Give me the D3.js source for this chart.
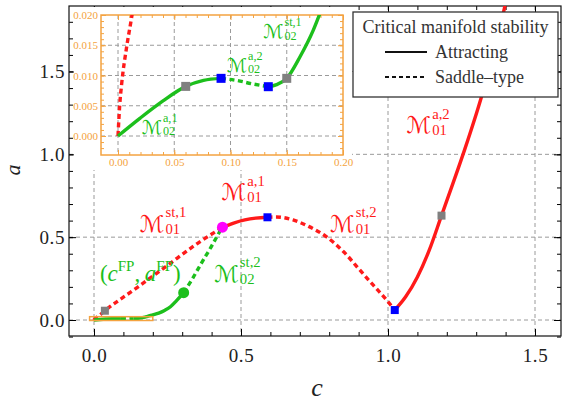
<!DOCTYPE html>
<html>
<head>
<meta charset="utf-8">
<script src="https://cdn.jsdelivr.net/npm/d3@7"></script>
<style>
  body { margin: 0; background: #fff; }
  svg { display: block; }
</style>
</head>
<body>
<svg id="chart" width="562" height="401"></svg>
<script>
// ---- data (c, a) ----
const greenSolidA = [[0,0],[0.02,0.003],[0.04,0.0058],[0.0602,0.0082],[0.076,0.0092],[0.0916,0.00953]]
const greenDashedA = [[0.0916,0.00953],[0.105,0.0092],[0.12,0.0086],[0.1336,0.00815]]
const greenSolidB = [[0.1336,0.00815],[0.141,0.0085],[0.15,0.00953],[0.1618,0.0131],[0.1736,0.0175],[0.18,0.0205],
  [0.2,0.031],[0.22,0.042],[0.24,0.058],[0.26,0.08],[0.28,0.115],[0.305,0.165]]
const greenDashedB = [[0.305,0.165],[0.335,0.25],[0.365,0.342],[0.398,0.44],[0.432,0.548]]

const redDashedA = [[0,0],[0.0015,0.005],[0.0033,0.0087],[0.0075,0.0145],[0.0122,0.0197],[0.037,0.056],
  [0.15,0.2],[0.25,0.33],[0.35,0.46],[0.437,0.559]]
const redSolidA = [[0.437,0.559],[0.475,0.585],[0.513,0.604],[0.55,0.615],[0.59,0.62]]
const redDashedB = [[0.59,0.62],[0.62,0.622],[0.677,0.604],[0.73,0.565],[0.79,0.503],[0.85,0.41],
  [0.904,0.302],[0.95,0.21],[0.995,0.121],[1.023,0.06]]
const redSolidB = [[1.023,0.06],[1.06,0.14],[1.1,0.26],[1.14,0.42],[1.182,0.63],[1.22,0.82],[1.261,1.03],
  [1.318,1.348],[1.36,1.62],[1.397,1.89],[1.41,2.0]]

const grayMain = [[0.037,0.056],[1.182,0.63]]
const blueMain = [[0.59,0.62],[1.023,0.06]]
const magentaPts = [[0.437,0.56]]
const greenPts = [[0.305,0.165]]
const grayInset = [[0.0602,0.0082],[0.15,0.00953]]
const blueInset = [[0.0916,0.00953],[0.1336,0.00815]]

const xMajor = [0, 0.5, 1, 1.5]
const yMajor = [0, 0.5, 1, 1.5]
const xiMajor = [0, 0.05, 0.1, 0.15, 0.2]
const yiMajor = [0, 0.005, 0.01, 0.015, 0.02]
const legendLabels = ["Attracting", "Saddle\u2013type"]

const RED = "#ff1a1a", GREEN = "#1cbf1c", ORANGE = "#f4a340"
const SERIF = "'Liberation Serif','DejaVu Serif',serif"
const MFONT = "'DejaVu Sans','DejaVu Serif',serif"

const svg = d3.select("#chart")

// ## main scales ##
const frame = { l: 69, r: 561, t: 6, b: 336 }
const x = d3.scaleLinear().domain([0, 1.5]).range([94, 535])
const y = d3.scaleLinear().domain([0, 1.5]).range([320, 71.5])

// grid
const grid = svg.append("g").attr("stroke", "#9a9a9a").attr("stroke-dasharray", "4,3").attr("stroke-width", 1)
grid.selectAll(".gx").data(xMajor).enter().append("line")
  .attr("x1", d => x(d)).attr("x2", d => x(d)).attr("y1", frame.t).attr("y2", frame.b)
grid.selectAll(".gy").data(yMajor).enter().append("line")
  .attr("y1", d => y(d)).attr("y2", d => y(d)).attr("x1", frame.l).attr("x2", frame.r)

// frame + ticks (ticks point inward)
const xMinor = d3.range(0, 16).map(i => i / 10)
const yMinor = d3.range(-1, 19).map(i => i / 10)
const fmt1 = d3.format(".1f")

const styleAxis = (g, color) => {
  g.select(".domain").remove()
  g.selectAll("line").attr("stroke", color)
}
const addAxis = (axisFn, scale, vals, size, tx, ty) => {
  const ax = axisFn(scale).tickValues(vals).tickSize(-size).tickFormat("")
  return svg.append("g").attr("transform", `translate(${tx},${ty})`).call(ax).call(g => styleAxis(g, "#000"))
}
addAxis(d3.axisBottom, x, xMinor, 4, 0, frame.b)
addAxis(d3.axisTop, x, xMinor, 4, 0, frame.t)
addAxis(d3.axisLeft, y, yMinor, 4, frame.l, 0)
addAxis(d3.axisRight, y, yMinor, 4, frame.r, 0)
addAxis(d3.axisTop, x, xMajor, 7, 0, frame.t)
addAxis(d3.axisRight, y, yMajor, 7, frame.r, 0)
svg.append("g").attr("transform", `translate(0,${frame.b})`)
  .call(d3.axisBottom(x).tickValues(xMajor).tickSize(-7).tickPadding(13).tickFormat(fmt1))
  .call(g => styleAxis(g, "#000"))
  .selectAll("text").attr("font-family", SERIF).attr("font-size", 19).attr("letter-spacing", 0.6).attr("fill", "#222")
svg.append("g").attr("transform", `translate(${frame.l},0)`)
  .call(d3.axisLeft(y).tickValues(yMajor).tickSize(-7).tickPadding(4).tickFormat(fmt1))
  .call(g => styleAxis(g, "#000"))
  .selectAll("text").attr("font-family", SERIF).attr("font-size", 19).attr("letter-spacing", 0.6).attr("fill", "#222")

svg.append("rect").attr("x", frame.l).attr("y", frame.t).attr("width", frame.r - frame.l).attr("height", frame.b - frame.t)
  .attr("fill", "none").attr("stroke", "#111").attr("stroke-width", 1.2)

// axis titles
svg.append("text").attr("transform", "translate(20,170) rotate(-90)").attr("text-anchor", "middle")
  .attr("font-family", SERIF).attr("font-style", "italic").attr("font-size", 22).attr("fill", "#222").text("a")
svg.append("text").attr("x", 317).attr("y", 396).attr("text-anchor", "middle")
  .attr("font-family", SERIF).attr("font-style", "italic").attr("font-size", 26).attr("fill", "#222").text("c")

// ## inset ##
const iframe = { l: 101, r: 343, t: 15, b: 155 }
const xi = d3.scaleLinear().domain([0, 0.2]).range([118, 343])
const yi = d3.scaleLinear().domain([0, 0.02]).range([136, 15])

svg.append("rect").attr("x", 74).attr("y", 7).attr("width", 352 - 74).attr("height", 170 - 7).attr("fill", "#fff")

const igrid = svg.append("g").attr("stroke", "#9a9a9a").attr("stroke-dasharray", "4,3")
igrid.selectAll("line.v").data(xiMajor.slice(0, 4)).enter().append("line").attr("class", "v")
  .attr("x1", d => xi(d)).attr("x2", d => xi(d)).attr("y1", iframe.t).attr("y2", iframe.b)
igrid.selectAll("line.h").data(yiMajor.slice(0, 4)).enter().append("line").attr("class", "h")
  .attr("y1", d => yi(d)).attr("y2", d => yi(d)).attr("x1", iframe.l).attr("x2", iframe.r)

const xiMinor = d3.range(0, 21).map(i => i / 100)
const yiMinor = d3.range(-2, 21).map(i => i / 1000)
const addIAxis = (axisFn, scale, vals, size, tx, ty) => {
  svg.append("g").attr("transform", `translate(${tx},${ty})`)
    .call(axisFn(scale).tickValues(vals).tickSize(-size).tickFormat(""))
    .call(g => styleAxis(g, ORANGE))
}
addIAxis(d3.axisBottom, xi, xiMinor, 3, 0, iframe.b)
addIAxis(d3.axisTop, xi, xiMinor, 3, 0, iframe.t)
addIAxis(d3.axisLeft, yi, yiMinor, 3, iframe.l, 0)
addIAxis(d3.axisRight, yi, yiMinor, 3, iframe.r, 0)
addIAxis(d3.axisTop, xi, xiMajor, 5, 0, iframe.t)
addIAxis(d3.axisRight, yi, yiMajor, 5, iframe.r, 0)
svg.append("g").attr("transform", `translate(0,${iframe.b})`)
  .call(d3.axisBottom(xi).tickValues(xiMajor).tickSize(-5).tickPadding(3).tickFormat(d3.format(".2f")))
  .call(g => styleAxis(g, ORANGE))
  .selectAll("text").attr("font-family", SERIF).attr("font-size", 11).attr("fill", ORANGE)
svg.append("g").attr("transform", `translate(${iframe.l},0)`)
  .call(d3.axisLeft(yi).tickValues(yiMajor).tickSize(-5).tickPadding(3).tickFormat(d3.format(".3f")))
  .call(g => styleAxis(g, ORANGE))
  .selectAll("text").attr("font-family", SERIF).attr("font-size", 11).attr("fill", ORANGE)
svg.append("rect").attr("x", iframe.l).attr("y", iframe.t).attr("width", iframe.r - iframe.l).attr("height", iframe.b - iframe.t)
  .attr("fill", "none").attr("stroke", ORANGE).attr("stroke-width", 1.5)

// clip paths
const defs = svg.append("defs")
defs.append("clipPath").attr("id", "clipMain").append("rect")
  .attr("x", frame.l).attr("y", frame.t).attr("width", frame.r - frame.l).attr("height", frame.b - frame.t)
defs.append("clipPath").attr("id", "clipInset").append("rect")
  .attr("x", iframe.l).attr("y", iframe.t).attr("width", iframe.r - iframe.l).attr("height", iframe.b - iframe.t)

const drawCurves = (parent, sx, sy, list) => {
  const line = d3.line().x(d => sx(d[0])).y(d => sy(d[1])).curve(d3.curveMonotoneX)
  parent.selectAll("path.curve").data(list).enter().append("path").attr("class", "curve")
    .attr("d", d => line(d.pts)).attr("fill", "none").attr("stroke", d => d.color)
    .attr("stroke-width", 3.4).attr("stroke-dasharray", d => d.dashed ? "5,3.5" : null)
}
const drawSquares = (parent, sx, sy, pts, color, s) => {
  parent.selectAll(null).data(pts).enter().append("rect")
    .attr("x", d => sx(d[0]) - s / 2).attr("y", d => sy(d[1]) - s / 2).attr("width", s).attr("height", s).attr("fill", color)
}
const drawDots = (parent, sx, sy, pts, color, r) => {
  parent.selectAll(null).data(pts).enter().append("circle")
    .attr("cx", d => sx(d[0])).attr("cy", d => sy(d[1])).attr("r", r).attr("fill", color)
}

const curveList = [
  { pts: redDashedA, color: RED, dashed: true },
  { pts: redSolidA, color: RED, dashed: false },
  { pts: redDashedB, color: RED, dashed: true },
  { pts: redSolidB, color: RED, dashed: false },
  { pts: greenSolidA, color: GREEN, dashed: false },
  { pts: greenDashedA, color: GREEN, dashed: true },
  { pts: greenSolidB, color: GREEN, dashed: false },
  { pts: greenDashedB, color: GREEN, dashed: true },
]

const gi = svg.append("g").attr("clip-path", "url(#clipInset)")
drawCurves(gi, xi, yi, curveList.filter(d => d.pts[0][0] < 0.2 && d.pts[0][1] < 0.02))
drawSquares(svg, xi, yi, grayInset, "#808080", 9)
drawSquares(svg, xi, yi, blueInset, "#0000ff", 9)

// main curves
const gm = svg.append("g").attr("clip-path", "url(#clipMain)")
drawCurves(gm, x, y, curveList)
// zoom rectangle for the inset region
svg.append("rect").attr("x", x(-0.015)).attr("y", y(0.02)).attr("width", x(0.2) - x(-0.015)).attr("height", y(-0.003) - y(0.02))
  .attr("fill", "none").attr("stroke", ORANGE).attr("stroke-width", 1.5)
drawSquares(svg, x, y, grayMain, "#808080", 8)
drawSquares(svg, x, y, blueMain, "#0000ff", 8)
drawDots(svg, x, y, magentaPts, "#ff00ff", 5.5)
drawDots(svg, x, y, greenPts, GREEN, 5.5)

// ## manifold labels ##
const mLabel = (sx, sy, c, a, sup, sub, color, size) => {
  const g = svg.append("g").attr("fill", color)
  const m = g.append("text").attr("x", sx(c)).attr("y", sy(a)).attr("font-family", MFONT)
    .attr("font-size", size).text("\u2133")
  const w = m.node().getComputedTextLength()
  const small = size * 0.64
  g.append("text").attr("x", sx(c) + w + 1).attr("y", sy(a) - size * 0.62).attr("font-family", SERIF)
    .attr("font-size", small).text(sup)
  g.append("text").attr("x", sx(c) + w + 1).attr("y", sy(a) + size * 0.08).attr("font-family", SERIF)
    .attr("font-size", small).text(sub)
}
mLabel(x, y, 0.434, 0.724, "a,1", "01", RED, 23)
mLabel(x, y, 0.156, 0.533, "st,1", "01", RED, 23)
mLabel(x, y, 0.803, 0.533, "st,2", "01", RED, 23)
mLabel(x, y, 1.063, 1.127, "a,2", "01", RED, 23)
mLabel(x, y, 0.409, 0.231, "st,2", "02", GREEN, 23)
mLabel(xi, yi, 0.129, 0.0162, "st,1", "02", GREEN, 19)
mLabel(xi, yi, 0.0966, 0.0106, "a,2", "02", GREEN, 19)
mLabel(xi, yi, 0.021, 0.0004, "a,1", "02", GREEN, 19)

// fixed point label
const fp = svg.append("text").attr("x", x(0.02)).attr("y", y(0.235)).attr("font-family", SERIF)
  .attr("font-size", 23).attr("fill", GREEN)
fp.append("tspan").text("(")
fp.append("tspan").attr("font-style", "italic").text("c")
fp.append("tspan").attr("font-size", 15).attr("dy", -10).text("FP")
fp.append("tspan").attr("dy", 10).text(",\u2009")
fp.append("tspan").attr("font-style", "italic").text("a")
fp.append("tspan").attr("font-size", 15).attr("dy", -10).text("FP")
fp.append("tspan").attr("dy", 10).text(")")

// ## legend ##
const lg = svg.append("g")
lg.append("rect").attr("x", 353).attr("y", 12).attr("width", 205).attr("height", 85)
  .attr("fill", "#fff").attr("stroke", "#333").attr("stroke-width", 1.3)
lg.append("text").attr("x", 455.5).attr("y", 33).attr("text-anchor", "middle").attr("font-family", SERIF)
  .attr("font-size", 18).attr("fill", "#333").text("Critical manifold stability")
lg.selectAll("line.item").data(legendLabels).enter().append("line").attr("class", "item")
  .attr("x1", 385).attr("x2", 427).attr("y1", (d, i) => 52 + i * 25).attr("y2", (d, i) => 52 + i * 25)
  .attr("stroke", "#111").attr("stroke-width", (d, i) => i ? 1.8 : 2.2).attr("stroke-dasharray", (d, i) => i ? "4,3" : null)
lg.selectAll("text.item").data(legendLabels).enter().append("text").attr("class", "item")
  .attr("x", 435).attr("y", (d, i) => 57.5 + i * 25).attr("font-family", SERIF).attr("font-size", 18)
  .attr("fill", "#333").text(d => d)
</script>
</body>
</html>
